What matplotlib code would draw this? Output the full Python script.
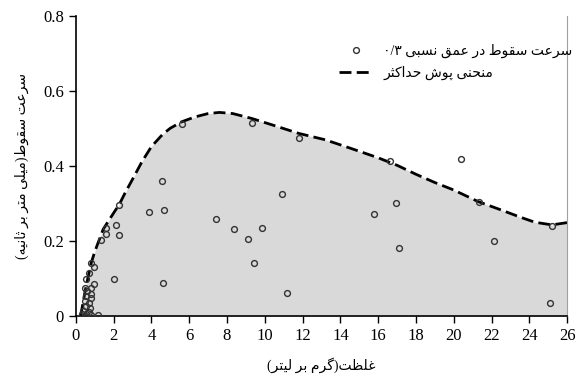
import re
import matplotlib
matplotlib.use("Agg")
import matplotlib.pyplot as plt
from matplotlib.lines import Line2D

# غلظت (گرم بر لیتر) و سرعت سقوط (میلی متر بر ثانیه)
conc = [0.81, 0.95, 0.71, 0.56, 0.95, 0.49, 0.81, 0.60, 0.78, 0.53, 0.81,
        0.49, 0.67, 0.56, 0.74, 0.39, 0.67, 0.53, 0.78, 1.16, 0.32, 0.46,
        1.32, 1.61, 1.61, 2.12, 2.28, 2.29, 2.03,
        3.88, 4.55, 4.64, 4.59, 5.63,
        7.39, 8.35, 9.10, 9.83, 9.42, 9.33,
        10.90, 11.19, 11.81,
        15.79, 16.64, 16.97, 17.11,
        20.40, 21.33, 22.15, 25.20, 25.09]
speed = [0.140, 0.130, 0.114, 0.098, 0.085, 0.075, 0.074, 0.066, 0.059, 0.053, 0.048,
         0.041, 0.034, 0.027, 0.020, 0.014, 0.011, 0.004, 0.002, 0.002, 0.005, 0.001,
         0.204, 0.234, 0.218, 0.244, 0.215, 0.296, 0.098,
         0.278, 0.361, 0.284, 0.088, 0.512,
         0.260, 0.231, 0.205, 0.234, 0.140, 0.514,
         0.325, 0.060, 0.476,
         0.272, 0.413, 0.302, 0.182,
         0.418, 0.304, 0.201, 0.241, 0.034]

# منحنی پوش حداکثر
env_x = [0.25, 0.5, 0.8, 1.0, 1.45, 2.0, 2.3, 2.6, 3.0, 3.5, 4.0, 4.6, 5.0, 5.6, 6.3,
         7.0, 7.6, 8.3, 9.3, 10.5, 11.8, 13.2, 14.5, 16.0, 17.0, 18.0, 19.0,
         20.0, 21.3, 22.5, 23.5, 24.3, 25.2, 26.0]
env_y = [0.0, 0.07, 0.14, 0.172, 0.232, 0.275, 0.298, 0.328, 0.365, 0.412, 0.452, 0.485,
         0.501, 0.518, 0.531, 0.540, 0.543, 0.540, 0.527, 0.508, 0.487, 0.470,
         0.448, 0.422, 0.402, 0.378, 0.356, 0.336, 0.305, 0.283, 0.264, 0.250,
         0.243, 0.249]

x_ticks = list(range(0, 27, 2))
y_ticks = [0, 0.2, 0.4, 0.6, 0.8]
y_ticklabels = ["0", "0.2", "0.4", "0.6", "0.8"]

lbl_points = "سرعت سقوط در عمق نسبی ۰/۳"
lbl_env = "منحنی پوش حداکثر"
x_title = "غلظت(گرم بر لیتر)"
y_title = "سرعت سقوط(میلی متر بر ثانیه)"

# شکل های حروف: منفرد، پایانی، آغازی، میانی
FORMS = {
    'ا': ('\uFE8D', '\uFE8E', None, None),
    'ب': ('\uFE8F', '\uFE90', '\uFE91', '\uFE92'),
    'پ': ('\uFB56', '\uFB57', '\uFB58', '\uFB59'),
    'ت': ('\uFE95', '\uFE96', '\uFE97', '\uFE98'),
    'ث': ('\uFE99', '\uFE9A', '\uFE9B', '\uFE9C'),
    'ح': ('\uFEA1', '\uFEA2', '\uFEA3', '\uFEA4'),
    'د': ('\uFEA9', '\uFEAA', None, None),
    'ر': ('\uFEAD', '\uFEAE', None, None),
    'س': ('\uFEB1', '\uFEB2', '\uFEB3', '\uFEB4'),
    'ش': ('\uFEB5', '\uFEB6', '\uFEB7', '\uFEB8'),
    'ط': ('\uFEC1', '\uFEC2', '\uFEC3', '\uFEC4'),
    'ظ': ('\uFEC5', '\uFEC6', '\uFEC7', '\uFEC8'),
    'ع': ('\uFEC9', '\uFECA', '\uFECB', '\uFECC'),
    'غ': ('\uFECD', '\uFECE', '\uFECF', '\uFED0'),
    'ق': ('\uFED5', '\uFED6', '\uFED7', '\uFED8'),
    'ک': ('\uFB8E', '\uFB8F', '\uFB90', '\uFB91'),
    'گ': ('\uFB92', '\uFB93', '\uFB94', '\uFB95'),
    'ل': ('\uFEDD', '\uFEDE', '\uFEDF', '\uFEE0'),
    'م': ('\uFEE1', '\uFEE2', '\uFEE3', '\uFEE4'),
    'ن': ('\uFEE5', '\uFEE6', '\uFEE7', '\uFEE8'),
    'ه': ('\uFEE9', '\uFEEA', '\uFEEB', '\uFEEC'),
    'و': ('\uFEED', '\uFEEE', None, None),
    'ی': ('\uFBFC', '\uFBFD', '\uFBFE', '\uFBFF'),
}


def fa(text):
    # اتصال حروف و راست به چپ کردن متن
    out = []
    for i, ch in enumerate(text):
        if ch not in FORMS:
            out.append(ch)
            continue
        iso, fin, ini, med = FORMS[ch]
        prev = text[i - 1] if i > 0 else ''
        nxt = text[i + 1] if i + 1 < len(text) else ''
        jp = prev in FORMS and FORMS[prev][2] is not None
        jn = nxt in FORMS and ini is not None
        if jp and jn:
            out.append(med)
        elif jp:
            out.append(fin)
        elif jn:
            out.append(ini)
        else:
            out.append(iso)
    s = ''.join(out)[::-1]
    s = s.translate(str.maketrans('()', ')('))
    return re.sub(r'[۰-۹/]+', lambda m: m.group()[::-1], s)


serif = ['Liberation Serif', 'DejaVu Sans']
plt.rcParams['font.family'] = serif

fig = plt.figure(figsize=(5.84, 3.83), dpi=100)
ax = fig.add_axes([0.130, 0.175, 0.841, 0.783])

ax.fill_between(env_x, env_y, 0, color='#d9d9d9', lw=0, zorder=1)
ax.plot(env_x, env_y, color='black', lw=2, dashes=(4.3, 1.9), zorder=2)
ax.plot(conc, speed, 'o', ms=4.2, mfc='none', mec='#333333', mew=1.0, zorder=3)

ax.set_xlim(0, 26)
ax.set_ylim(0, 0.8)
ax.set_xticks(x_ticks)
ax.set_yticks(y_ticks)
ax.set_yticklabels(y_ticklabels)
ax.tick_params(direction='out', length=5, width=1, labelsize=12, colors='black')
ax.spines['top'].set_visible(False)
ax.spines['right'].set_color('#a0a0a0')
ax.spines['left'].set_linewidth(1.2)
ax.spines['bottom'].set_linewidth(1.2)

ax.set_xlabel(fa(x_title), fontsize=10, labelpad=10)
ax.set_ylabel(fa(y_title), fontsize=10, labelpad=10)

handles = [Line2D([], [], ls='none', marker='o', ms=4.2, mfc='none', mec='#333333', mew=1.0),
           Line2D([], [], color='black', lw=2, dashes=(4.3, 1.9))]
ax.legend(handles, [fa(lbl_points), fa(lbl_env)], loc='upper right',
          bbox_to_anchor=(1.037, 0.95), frameon=False, fontsize=10,
          handlelength=2.4, labelspacing=0.55)

fig.savefig('out.png', dpi=100)
